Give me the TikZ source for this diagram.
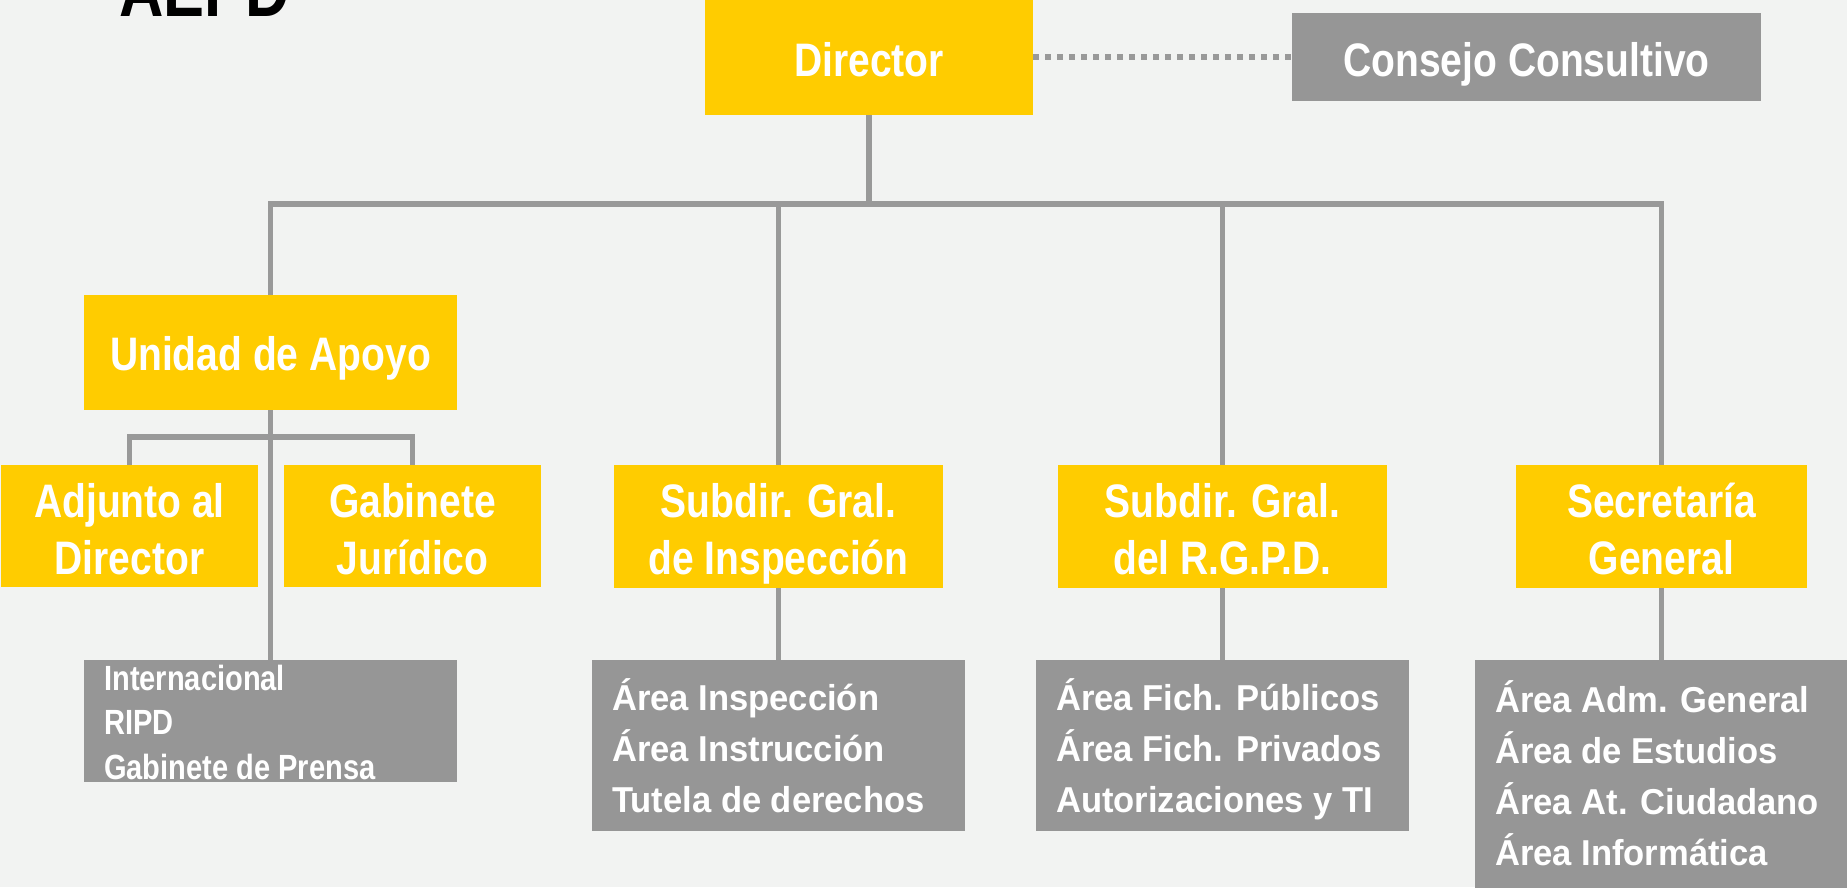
\documentclass[tikz,border=0pt]{standalone}
\usepackage{fontspec}
\setmainfont{Liberation Sans}
\newfontfamily\yfont{Liberation Sans}[FakeStretch=0.83]
\newfontfamily\gfont{Liberation Sans}[FakeStretch=0.96]
\definecolor{bgc}{HTML}{F2F3F2}
\definecolor{yel}{HTML}{FFCC00}
\definecolor{boxg}{HTML}{969696}
\definecolor{lineg}{HTML}{999999}
\tikzset{
  ybox/.style={fill=yel, draw=none, inner sep=0pt, anchor=north west},
  gbox/.style={fill=boxg, draw=none, inner sep=0pt, anchor=north west},
  ytxt/.style={text=white, inner sep=0pt, anchor=base, font=\yfont\bfseries\fontsize{47}{57}\selectfont},
  gtxt/.style={text=white, inner sep=0pt, anchor=base west, font=\gfont\bfseries\fontsize{36}{51}\selectfont},
  itxt/.style={text=white, inner sep=0pt, anchor=base west, font=\yfont\bfseries\fontsize{35}{44.5}\selectfont},
  ttxt/.style={text=black, inner sep=0pt, anchor=base west, font=\yfont\bfseries\fontsize{74}{80}\selectfont},
  conn/.style={draw=lineg, line width=5.5pt},
  dotc/.style={draw=lineg, line width=6pt, dash pattern=on 6pt off 6pt},
}
\begin{document}
\begin{tikzpicture}[x=1pt, y=-1pt]
\useasboundingbox (0,0) rectangle (1847,887);
\clip (0,0) rectangle (1847,887);
\fill[bgc] (0,0) rectangle (1847,887);

% boxes
\node[ybox, minimum width=328, minimum height=135] (dir) at (705,-20) {};
\node[gbox, minimum width=469, minimum height=88] (cons) at (1292,13) {};
\node[ybox, minimum width=373, minimum height=115] (unid) at (84,295) {};
\node[ybox, minimum width=257, minimum height=122] (adj) at (1,465) {};
\node[ybox, minimum width=257, minimum height=122] (gab) at (284,465) {};
\node[ybox, minimum width=329, minimum height=123] (sinsp) at (614,465) {};
\node[ybox, minimum width=329, minimum height=123] (srgpd) at (1058,465) {};
\node[ybox, minimum width=291, minimum height=123] (sec) at (1516,465) {};
\node[gbox, minimum width=373, minimum height=122] (intl) at (84,660) {};
\node[gbox, minimum width=373, minimum height=171] (insp) at (592,660) {};
\node[gbox, minimum width=373, minimum height=171] (rgpd) at (1036,660) {};
\node[gbox, minimum width=373, minimum height=240] (secg) at (1475,660) {};

% connectors
\coordinate (busY) at (0,204);
\coordinate (brY) at (0,437);
\draw[conn] (dir.south) -- (dir.south |- busY);
\draw[conn] (unid.north) -- (unid.north |- busY) -- (sec.north |- busY) -- (sec.north);
\draw[conn] (sinsp.north |- busY) -- (sinsp.north);
\draw[conn] (srgpd.north |- busY) -- (srgpd.north);
\draw[conn] (unid.south) -- (intl.north);
\draw[conn] (adj.north) -- (adj.north |- brY) -- (gab.north |- brY) -- (gab.north);
\draw[conn] (sinsp.south) -- (insp.north);
\draw[conn] (srgpd.south) -- (rgpd.north);
\draw[conn] (sec.south) -- (secg.north);
\draw[dotc] (dir.east |- cons.west) -- (cons.west);

% texts
\node[ttxt] (title) at (119,16) {AEPD};
\node[ytxt] (dirT) at (869,76) {Director};
\node[ytxt] (consT) at (1526.5,76) {Consejo Consultivo};
\node[ytxt] (unidT) at (270.5,370) {Unidad de Apoyo};
\node[ytxt] (adjT) at (129.5,517) {\begin{tabular}[t]{@{}c@{}}Adjunto al\\Director\end{tabular}};
\node[ytxt] (gabT) at (412.5,517) {\begin{tabular}[t]{@{}c@{}}Gabinete\\Jurídico\end{tabular}};
\node[ytxt] (sinspT) at (778.5,517) {\begin{tabular}[t]{@{}c@{}}Subdir. Gral.\\de Inspección\end{tabular}};
\node[ytxt] (srgpdT) at (1222.5,517) {\begin{tabular}[t]{@{}c@{}}Subdir. Gral.\\del R.G.P.D.\end{tabular}};
\node[ytxt] (secT) at (1661.5,517) {\begin{tabular}[t]{@{}c@{}}Secretaría\\General\end{tabular}};
\node[itxt] (intlT) at (104,690) {\begin{tabular}[t]{@{}l@{}}Internacional\\RIPD\\Gabinete de Prensa\end{tabular}};
\node[gtxt] (inspT) at (612,710) {\begin{tabular}[t]{@{}l@{}}Área Inspección\\Área Instrucción\\Tutela de derechos\end{tabular}};
\node[gtxt] (rgpdT) at (1056,710) {\begin{tabular}[t]{@{}l@{}}Área Fich. Públicos\\Área Fich. Privados\\Autorizaciones y TI\end{tabular}};
\node[gtxt] (secgT) at (1495,712) {\begin{tabular}[t]{@{}l@{}}Área Adm. General\\Área de Estudios\\Área At. Ciudadano\\Área Informática\end{tabular}};
\end{tikzpicture}
\end{document}
